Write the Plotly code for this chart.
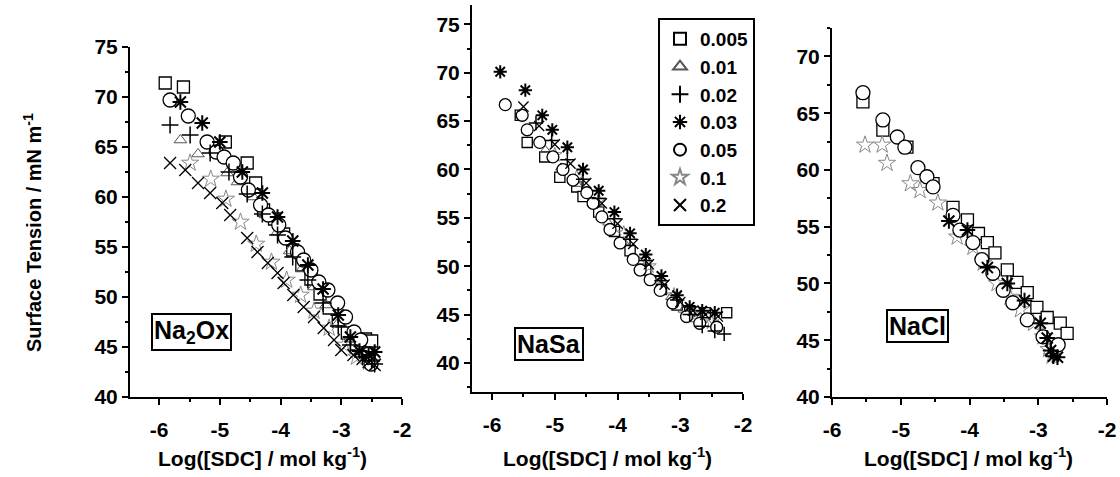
import plotly.graph_objects as go

# ---------------- data ----------------
series_names = ["0.005", "0.01", "0.02", "0.03", "0.05", "0.1", "0.2"]

# Panel 1 : Na2Ox
p1_005_x = [-5.90, -5.60, -4.91, -4.55, -4.41, -4.28, -4.10, -3.95, -3.80, -3.65, -3.50, -3.35, -3.20, -3.05, -2.90, -2.75, -2.60, -2.50]
p1_005_y = [71.4, 71.0, 65.5, 63.4, 61.4, 58.7, 57.8, 56.3, 54.7, 53.2, 51.8, 50.3, 48.9, 47.6, 46.4, 45.3, 45.8, 45.6]
p1_01_x = [-5.65, -5.36, -4.88, -4.71, -4.45, -4.25, -4.05, -3.85, -3.65, -3.45, -3.25, -3.05, -2.85, -2.70, -2.55, -2.45]
p1_01_y = [65.7, 64.3, 62.4, 61.5, 60.0, 58.2, 56.5, 54.6, 52.8, 51.0, 49.2, 47.4, 45.8, 44.8, 44.3, 44.0]
p1_02_x = [-5.82, -5.49, -5.16, -4.85, -4.55, -4.30, -4.05, -3.80, -3.55, -3.30, -3.05, -2.85, -2.65, -2.50, -2.45]
p1_02_y = [67.2, 66.2, 64.4, 62.5, 60.3, 58.3, 56.2, 54.0, 51.7, 49.4, 47.1, 45.2, 44.0, 43.6, 43.3]
p1_03_x = [-5.65, -5.29, -5.00, -4.63, -4.30, -4.05, -3.80, -3.55, -3.30, -3.05, -2.85, -2.70, -2.55, -2.45]
p1_03_y = [69.5, 67.4, 65.5, 62.5, 60.4, 58.0, 55.6, 53.2, 50.8, 48.2, 46.0, 44.6, 44.2, 44.5]
p1_05_x = [-5.82, -5.52, -5.21, -5.06, -4.93, -4.78, -4.66, -4.53, -4.33, -4.20, -4.03, -3.92, -3.72, -3.62, -3.50, -3.37, -3.22, -3.06, -2.93, -2.79, -2.68, -2.55, -2.51]
p1_05_y = [69.7, 68.1, 65.5, 64.5, 64.0, 63.4, 62.0, 60.7, 59.2, 58.2, 57.2, 55.9, 54.5, 53.7, 52.7, 51.5, 50.7, 49.4, 48.0, 46.5, 45.7, 44.3, 43.3]
p1_1_x = [-5.49, -5.15, -4.90, -4.66, -4.40, -4.15, -3.90, -3.67, -3.45, -3.20, -2.95, -2.75, -2.55]
p1_1_y = [63.4, 61.8, 59.8, 57.5, 55.3, 53.5, 51.7, 50.2, 48.6, 46.9, 45.2, 44.0, 43.5]
p1_2_x = [-5.82, -5.57, -5.36, -5.16, -4.96, -4.83, -4.55, -4.38, -4.21, -4.05, -3.95, -3.79, -3.62, -3.45, -3.29, -3.12, -3.00, -2.80, -2.65, -2.55, -2.45]
p1_2_y = [63.4, 62.7, 61.4, 60.4, 59.4, 58.2, 55.9, 54.5, 53.4, 52.4, 51.4, 50.2, 49.0, 48.0, 46.9, 45.7, 44.7, 44.2, 43.8, 43.5, 43.2]

# Panel 2 : NaSa
p2_005_x = [-5.55, -5.44, -5.16, -4.92, -4.65, -4.55, -4.30, -4.05, -3.80, -3.55, -3.30, -3.05, -2.85, -2.60, -2.26]
p2_005_y = [65.6, 62.8, 61.3, 59.2, 58.2, 57.2, 55.6, 53.6, 51.6, 49.6, 47.6, 46.0, 45.4, 45.2, 45.2]
p2_01_x = [-5.45, -5.15, -4.90, -4.65, -4.40, -4.15, -3.90, -3.65, -3.40, -3.15, -2.95, -2.75, -2.55]
p2_01_y = [64.0, 62.0, 60.2, 58.5, 56.5, 54.5, 52.5, 50.5, 48.5, 46.8, 45.5, 44.5, 44.0]
p2_02_x = [-5.30, -5.05, -4.80, -4.55, -4.30, -4.05, -3.80, -3.55, -3.30, -3.05, -2.85, -2.65, -2.45, -2.30]
p2_02_y = [64.8, 63.0, 61.0, 59.0, 57.0, 54.9, 52.8, 50.6, 48.5, 46.5, 45.0, 43.8, 43.3, 43.0]
p2_03_x = [-5.87, -5.47, -5.20, -5.04, -4.80, -4.55, -4.30, -4.05, -3.80, -3.55, -3.30, -3.05, -2.85, -2.65, -2.45]
p2_03_y = [70.1, 68.2, 65.6, 64.1, 62.3, 60.0, 57.8, 55.6, 53.4, 51.2, 49.0, 47.0, 45.8, 45.4, 45.2]
p2_05_x = [-5.79, -5.52, -5.44, -5.24, -5.03, -4.87, -4.71, -4.49, -4.39, -4.25, -4.12, -3.96, -3.75, -3.64, -3.48, -3.32, -3.12, -2.90, -2.69, -2.42]
p2_05_y = [66.7, 65.6, 64.1, 62.8, 61.3, 60.0, 58.9, 57.6, 56.5, 55.1, 53.8, 52.4, 50.7, 49.6, 48.6, 47.5, 46.2, 44.8, 44.1, 43.7]
p2_1_x = [-5.00, -4.65, -4.30, -3.90, -3.50, -3.10, -2.80, -2.50]
p2_1_y = [61.5, 59.2, 56.8, 53.4, 50.0, 47.0, 45.0, 44.2]
p2_2_x = [-5.50, -5.25, -5.00, -4.75, -4.50, -4.25, -4.00, -3.75, -3.50, -3.25, -3.00, -2.80, -2.60, -2.40]
p2_2_y = [66.5, 64.5, 62.6, 60.6, 58.6, 56.5, 54.4, 52.3, 50.2, 48.1, 46.3, 45.4, 45.0, 44.8]

# Panel 3 : NaCl
p3_005_x = [-5.55, -5.26, -4.91, -4.53, -4.24, -4.03, -3.87, -3.74, -3.63, -3.45, -3.31, -3.16, -3.02, -2.87, -2.68, -2.58]
p3_005_y = [66.0, 63.5, 62.0, 58.8, 56.7, 55.6, 54.4, 53.6, 52.7, 51.2, 50.1, 49.2, 47.9, 47.0, 46.5, 45.6]
p3_03_x = [-4.30, -4.03, -3.74, -3.45, -3.20, -2.97, -2.87, -2.82, -2.78, -2.72]
p3_03_y = [55.5, 54.7, 51.4, 50.0, 48.5, 46.5, 45.2, 44.1, 43.6, 43.5]
p3_05_x = [-5.55, -5.26, -5.05, -4.94, -4.75, -4.62, -4.53, -4.24, -4.14, -3.95, -3.82, -3.66, -3.51, -3.37, -3.16, -2.93, -2.71]
p3_05_y = [66.8, 64.4, 62.9, 62.0, 60.2, 59.4, 58.5, 56.0, 54.7, 53.6, 52.1, 50.9, 49.4, 48.3, 46.8, 45.3, 44.6]
p3_1_x = [-5.52, -5.27, -5.20, -4.86, -4.72, -4.46, -4.18, -3.95, -3.80, -3.60, -3.41, -3.26, -3.07, -2.93, -2.85, -2.80]
p3_1_y = [62.2, 62.2, 60.6, 58.8, 58.2, 57.1, 54.1, 53.2, 51.8, 50.0, 48.8, 47.7, 46.5, 45.3, 44.2, 43.6]

# tick labels
x_tickvals = [-6, -5, -4, -3, -2]
x_ticktext = ["-6", "-5", "-4", "-3", "-2"]
y_tickvals = [40, 45, 50, 55, 60, 65, 70, 75]
y_ticktext = ["40", "45", "50", "55", "60", "65", "70", "75"]

panel_labels = ["Na<sub>2</sub>Ox", "NaSa", "NaCl"]
x_title = "Log([SDC] / mol kg<sup>-1</sup>)"
y_title = "Surface Tension / mN m<sup>-1</sup>"

# ---------------- styles ----------------
FONT = "Liberation Sans, Arial, sans-serif"
styles = {
    "0.005": dict(symbol="square", color="white", line=dict(color="black", width=1.3), size=12),
    "0.01": dict(symbol="triangle-up-open", color="#555555", line=dict(color="#555555", width=1), size=11),
    "0.02": dict(symbol="cross-thin-open", color="black", line=dict(color="black", width=1.5), size=12),
    "0.03": dict(symbol="asterisk-open", color="black", line=dict(color="black", width=2), size=13),
    "0.05": dict(symbol="circle", color="white", line=dict(color="black", width=1.3), size=14),
    "0.1": dict(symbol="star-open", color="#888888", line=dict(color="#888888", width=1), size=13),
    "0.2": dict(symbol="x-thin-open", color="black", line=dict(color="black", width=1.3), size=12),
}
draw_order = ["0.005", "0.01", "0.1", "0.05", "0.2", "0.02", "0.03"]

panels = [
    {"0.005": (p1_005_x, p1_005_y), "0.01": (p1_01_x, p1_01_y), "0.02": (p1_02_x, p1_02_y),
     "0.03": (p1_03_x, p1_03_y), "0.05": (p1_05_x, p1_05_y), "0.1": (p1_1_x, p1_1_y), "0.2": (p1_2_x, p1_2_y)},
    {"0.005": (p2_005_x, p2_005_y), "0.01": (p2_01_x, p2_01_y), "0.02": (p2_02_x, p2_02_y),
     "0.03": (p2_03_x, p2_03_y), "0.05": (p2_05_x, p2_05_y), "0.1": (p2_1_x, p2_1_y), "0.2": (p2_2_x, p2_2_y)},
    {"0.005": (p3_005_x, p3_005_y), "0.03": (p3_03_x, p3_03_y), "0.05": (p3_05_x, p3_05_y), "0.1": (p3_1_x, p3_1_y)},
]
panel_scale = [1.0, 0.85, 1.0]

fig = go.Figure()
for i, pdata in enumerate(panels):
    ax = "" if i == 0 else str(i + 1)
    for name in draw_order:
        if name not in pdata:
            continue
        xs, ys = pdata[name]
        st = dict(styles[name])
        st["size"] = st["size"] * panel_scale[i]
        fig.add_trace(go.Scatter(
            x=xs, y=ys, mode="markers", name=name,
            marker=st, xaxis="x" + ax, yaxis="y" + ax,
            showlegend=(i == 1), legendrank=series_names.index(name) + 1,
        ))

W, H = 1120, 477
def fx(px):
    return px / W
def fy(py):
    return 1 - py / H

axis_common = dict(
    showline=True, linecolor="black", linewidth=2, ticks="outside", ticklen=6, tickwidth=2,
    tickcolor="black", showgrid=False, zeroline=False, mirror=False, automargin=False,
    tickfont=dict(family=FONT, size=21, color="black", weight="bold"),
    minor=dict(ticks="outside", ticklen=3, tickwidth=1.5, tickcolor="black"),
)

# panel geometry (pixels) and ranges
geo = [
    dict(x0=130, x1=402, xr=[-6.48, -2], y0=397, y1=47, yr=[40, 75]),
    dict(x0=472, x1=743, xr=[-6.32, -2], y0=392, y1=5, yr=[37, 77]),
    dict(x0=832, x1=1107, xr=[-6.0, -2], y0=397, y1=28, yr=[40, 72.5]),
]
layout = dict(width=W, height=H, autosize=False, margin=dict(l=0, r=0, t=0, b=0, autoexpand=False),
              plot_bgcolor="white", paper_bgcolor="white",
              font=dict(family=FONT, color="black"))
for i, g in enumerate(geo):
    ax = "" if i == 0 else str(i + 1)
    layout["xaxis" + ax] = dict(axis_common, domain=[fx(g["x0"]), fx(g["x1"])], range=g["xr"],
                                anchor="y" + ax, tickvals=x_tickvals,
                                ticktext=["<b>" + t + "</b>" for t in x_ticktext],
                                ticklabelstandoff=7,
                                minor=dict(axis_common["minor"], dtick=0.5, tick0=-6))
    layout["yaxis" + ax] = dict(axis_common, domain=[fy(g["y0"]), fy(g["y1"])], range=g["yr"],
                                anchor="x" + ax, tickvals=y_tickvals,
                                ticktext=["<b>" + t + "</b>" for t in y_ticktext],
                                minor=dict(axis_common["minor"], dtick=2.5, tick0=40))
fig.update_layout(**layout)

fig.update_layout(legend=dict(
    x=fx(658), y=fy(18), xanchor="left", yanchor="top",
    bordercolor="black", borderwidth=2, bgcolor="white",
    font=dict(family=FONT, size=19, color="black", weight="bold"),
    traceorder="normal", itemsizing="constant",
))

annotations = []
# panel labels
label_pos = [(191, 332, 25), (549, 344, 25), (917, 326, 25)]
for txt, (px, py, fs) in zip(panel_labels, label_pos):
    annotations.append(dict(text="<b>" + txt + "</b>", x=fx(px), y=fy(py), xref="paper", yref="paper",
                            xanchor="center", yanchor="middle",
                            showarrow=False, font=dict(family=FONT, size=fs, color="black"),
                            bordercolor="black", borderwidth=2, borderpad=1, bgcolor="white"))
# axis titles
for cx in [262, 607, 968]:
    annotations.append(dict(text="<b>" + x_title + "</b>", x=fx(cx), y=fy(457), xref="paper", yref="paper",
                            xanchor="center", yanchor="middle",
                            showarrow=False, font=dict(family=FONT, size=21, color="black")))
annotations.append(dict(text="<b>" + y_title + "</b>", x=fx(33), y=fy(233), xref="paper", yref="paper",
                        xanchor="center", yanchor="middle",
                        textangle=-90, showarrow=False, font=dict(family=FONT, size=20, color="black")))
fig.update_layout(annotations=annotations)

fig.write_html("out.html", config={"responsive": False},
               post_script="document.body.style.margin='0';document.body.style.padding='0';")
